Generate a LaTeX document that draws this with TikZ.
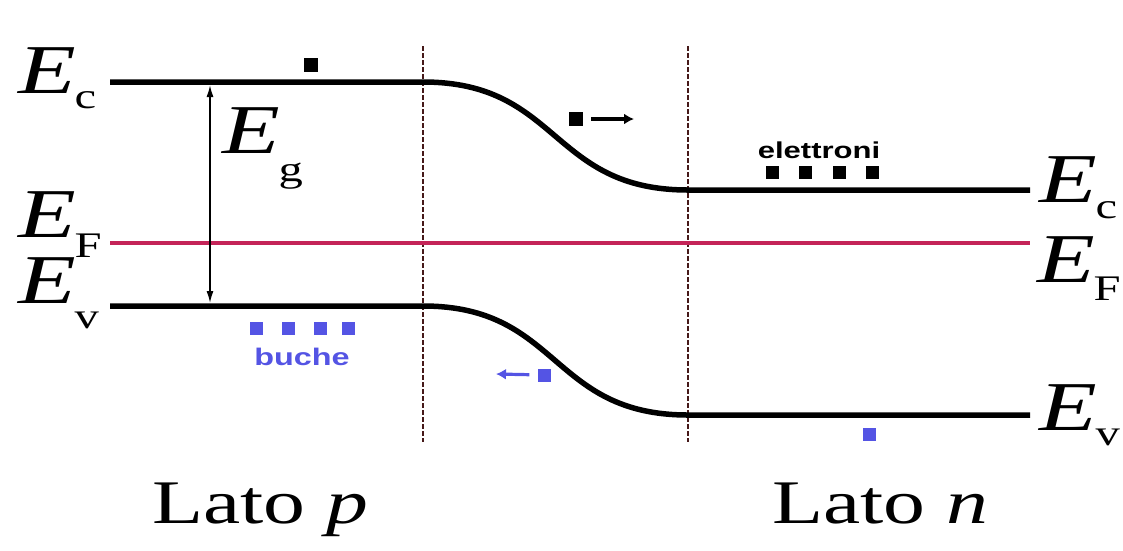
\documentclass[tikz,border=0pt]{standalone}
\usepackage{fontspec}
\setmainfont{Liberation Serif}
\setsansfont{Liberation Sans}
\usepackage{graphicx}
\usetikzlibrary{arrows.meta,positioning}
\usepackage{xcolor}

\definecolor{fermired}{RGB}{196,36,88}
\definecolor{holeblue}{RGB}{84,84,228}
\definecolor{edgebrown}{RGB}{70,25,25}

% the original picture is stretched sideways
\newcommand{\wide}[1]{\scalebox{1.35}[1]{#1}}
\newcommand{\lev}[2][16pt]{\wide{\fontsize{70}{70}\selectfont\textit{E}\kern-1pt\raisebox{-#1}{\fontsize{36}{36}\selectfont #2}}}

\begin{document}
\begin{tikzpicture}[
        x=1pt, y=-1pt,
        band/.style={draw, line width=5.5pt},
        fermi/.style={draw, fermired, line width=4.5pt},
        edge/.style={draw, edgebrown, line width=2.2pt, dash pattern=on 4.5pt off 2.5pt},
        gap/.style={draw, {Latex[length=12pt,width=7pt]}-{Latex[length=12pt,width=7pt]}, line width=1.5pt},
        drift/.style={draw, -{Latex[length=10pt,width=11pt]}, line width=3.5pt, shorten <=8pt},
        electron/.style={rectangle, fill=black, minimum size=14pt, inner sep=0pt},
        hole/.style={rectangle, fill=holeblue, minimum size=13pt, inner sep=0pt},
        level/.style={anchor=base west, inner sep=0pt},
        side/.style={anchor=base west, inner sep=0pt, font=\fontsize{62}{62}\selectfont},
        tag/.style={inner sep=0pt, font=\sffamily\bfseries}
    ]
    \useasboundingbox (0,0) rectangle (1123,550);

    % junction edges
    \coordinate (ptop) at (423,46);
    \coordinate (pbot) at (423,442);
    \coordinate (ntop) at (688,46);
    \coordinate (nbot) at (688,442);
    \path [edge] (ptop) -- (pbot);
    \path [edge] (ntop) -- (nbot);

    % bands
    \path [band] (110,82) -- (423,82) .. controls (560,82) and (550,190) .. (688,190) -- (1030,190);
    \path [fermi] (110,243) -- (1030,243);
    \path [band] (110,306) -- (423,306) .. controls (560,306) and (550,415) .. (688,415) -- (1030,415);

    % level labels
    \node [level] (ecp) at (18,93) {\lev[15pt]{c}};
    \node [level] (efp) at (18,237) {\lev[20pt]{F}};
    \node [level] (evp) at (18,303) {\lev[25pt]{v}};
    \node [level] (ecn) at (1039,202) {\lev{c}};
    \node [level] (efn) at (1037,282) {\lev[18pt]{F}};
    \node [level] (evn) at (1039,430) {\lev[15pt]{v}};
    \node [level] (eg) at (222,153) {\lev[28pt]{g}};

    % band gap
    \coordinate (gtop) at (210,85);
    \coordinate (gbot) at (210,303);
    \path [gap] (gtop) -- (gbot);

    % carriers
    \node [electron] (elone) at (311,65) {};
    \node [electron] (emove) at (576,119) {};
    \coordinate (etip) at (634,119);
    \path [drift] (emove) -- (etip);
    \foreach \x [count=\i] in {772,805,839,872}
        \node [electron, minimum size=13pt] (el\i) at (\x,172) {};
    \node [tag, font=\sffamily\bfseries\fontsize{23}{23}\selectfont] (eltag) at (819,150) {\wide{elettroni}};

    \foreach \x [count=\i] in {256,288,320,348}
        \node [hole] (ho\i) at (\x,328) {};
    \node [tag, text=holeblue, font=\sffamily\bfseries\fontsize{24}{24}\selectfont] (hotag) at (302,357) {\wide{buche}};
    \node [hole] (hmove) at (544,375) {};
    \coordinate (htip) at (496,374);
    \path [drift, holeblue, line width=3.2pt] (hmove) -- (htip);
    \node [hole] (holone) at (869,434) {};

    % sides
    \node [side] (pside) at (152,523) {\wide{Lato \textit{p}}};
    \node [side] (nside) at (772,523) {\wide{Lato \textit{n}}};
\end{tikzpicture}
\end{document}
